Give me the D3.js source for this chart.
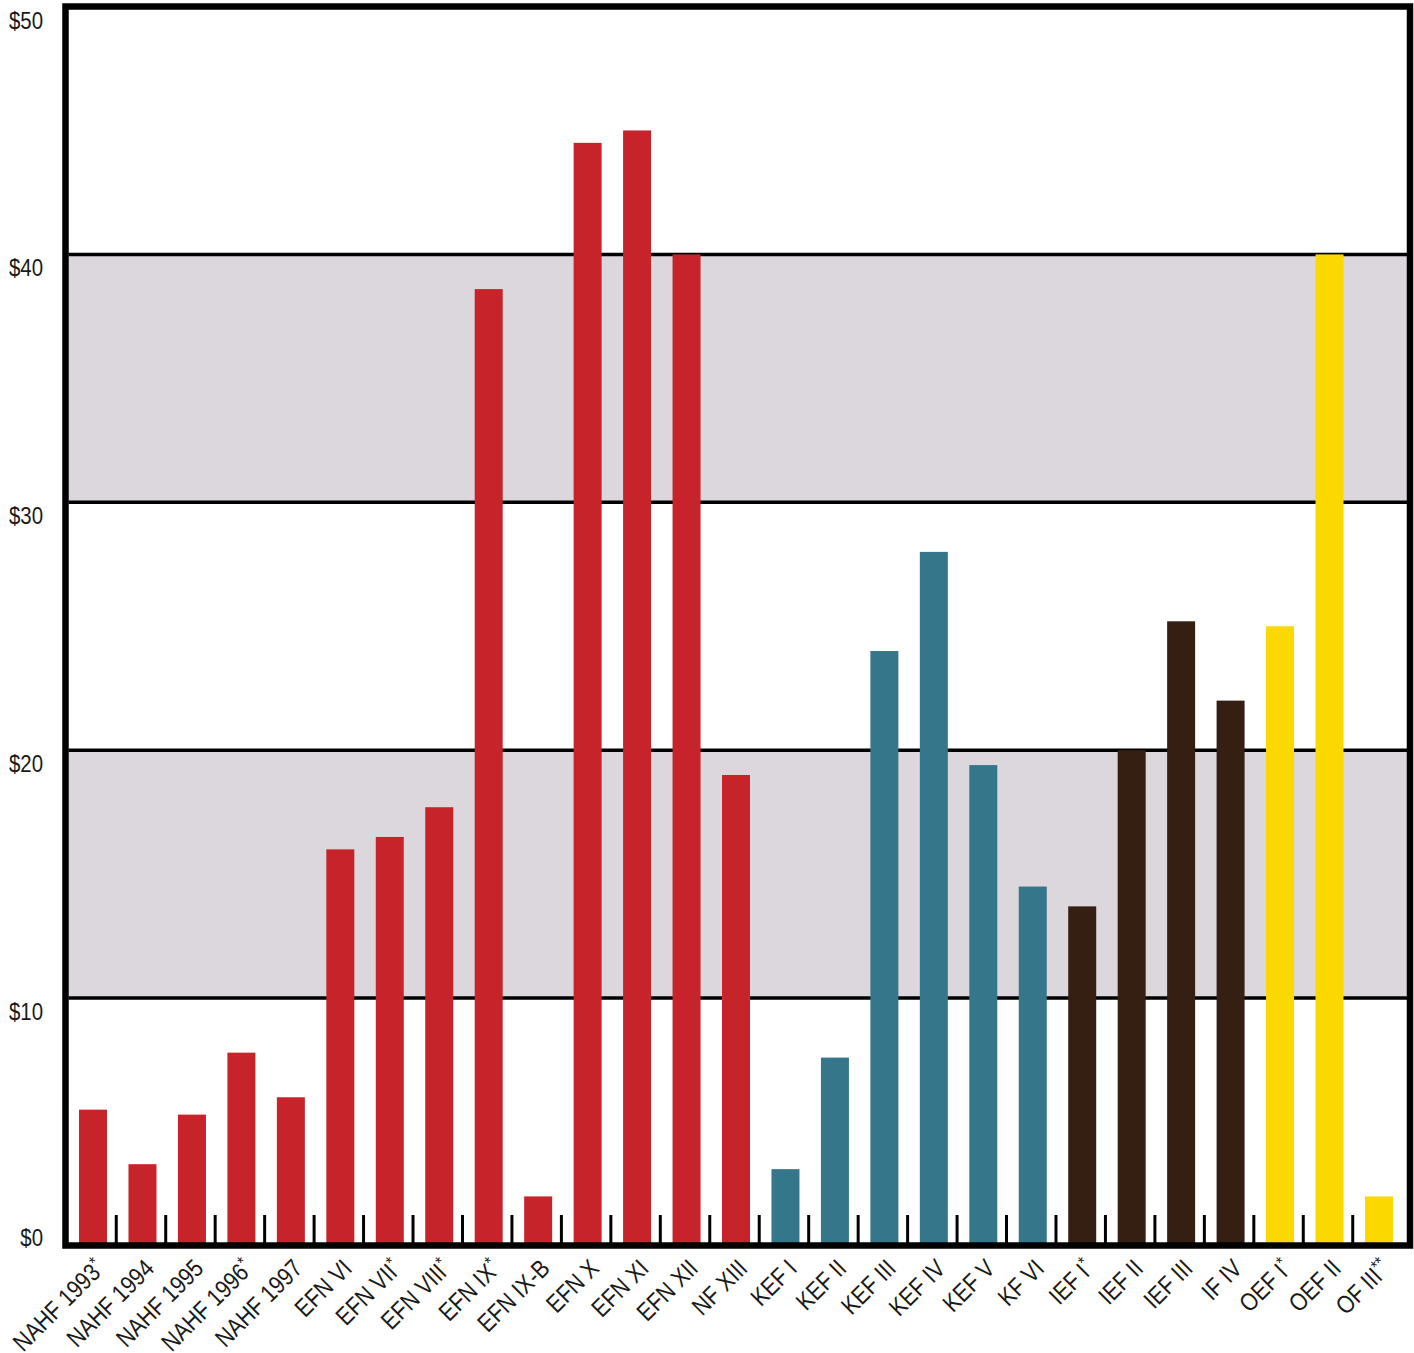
<!DOCTYPE html>
<html>
<head>
<meta charset="utf-8">
<script src="https://cdn.jsdelivr.net/npm/d3@7"></script>
<style>
body { margin: 0; background: #fff; }
svg text { font-family: "Liberation Sans", Arial, sans-serif; fill: #1a1a1a; }
</style>
</head>
<body>
<script>
var w = 1414;
var h = 1353;

var categories = ["NAHF 1993*", "NAHF 1994", "NAHF 1995", "NAHF 1996*", "NAHF 1997",
  "EFN VI", "EFN VII*", "EFN VIII*", "EFN IX*", "EFN IX-B", "EFN X", "EFN XI", "EFN XII", "NF XIII",
  "KEF I", "KEF II", "KEF III", "KEF IV", "KEF V", "KF VI",
  "IEF I*", "IEF II", "IEF III", "IF IV",
  "OEF I*", "OEF II", "OF III**"];

var values = [5.5, 3.3, 5.3, 7.8, 6.0,
  16.0, 16.5, 17.7, 38.6, 2.0, 44.5, 45.0, 40.0, 19.0,
  3.1, 7.6, 24.0, 28.0, 19.4, 14.5,
  13.7, 20.0, 25.2, 22.0,
  25.0, 40.0, 2.0];

var groups = ["EFN", "EFN", "EFN", "EFN", "EFN",
  "EFN", "EFN", "EFN", "EFN", "EFN", "EFN", "EFN", "EFN", "EFN",
  "KEF", "KEF", "KEF", "KEF", "KEF", "KEF",
  "IEF", "IEF", "IEF", "IEF",
  "OEF", "OEF", "OEF"];

var yTicks = [0, 10, 20, 30, 40, 50];
var yTickLabels = ["$0", "$10", "$20", "$30", "$40", "$50"];
var shaded = [[10, 20], [30, 40]];

var colors = {
  EFN: "#c6242a",
  KEF: "#36768a",
  IEF: "#351f13",
  OEF: "#fbd900"
};

var frameLeft = 65.5, frameTop = 6.5, frameRight = 1410, frameBottom = 1245.5;
var squeeze = 0.85; // narrow the font a bit

var svg = d3.select("body").append("svg")
    .attr("width", w)
    .attr("height", h)

var x = d3.scaleBand()
  .domain(categories)
  .range([68.3, 1403.7])
  .padding(0);

var y = d3.scaleLinear()
  .domain([0, 50])
  .range([1246, 6.5]);

var barW = x.bandwidth() * 0.566;

// shaded bands
svg.selectAll(".band")
  .data(shaded)
  .enter().append("rect")
  .attr("x", frameLeft + 3)
  .attr("width", frameRight - frameLeft - 6)
  .attr("y", function(d) { return y(d[1]); })
  .attr("height", function(d) { return y(d[0]) - y(d[1]); })
  .attr("fill", "#dcd7dd");

// grid lines
svg.selectAll(".grid")
  .data(yTicks.filter(function(d) { return d > 0 && d < 50; }))
  .enter().append("line")
  .attr("x1", frameLeft + 3)
  .attr("x2", frameRight - 3)
  .attr("y1", function(d) { return y(d); })
  .attr("y2", function(d) { return y(d); })
  .attr("stroke", "#000")
  .attr("stroke-width", 3.5);

// bars
svg.selectAll(".bar")
  .data(categories)
  .enter().append("rect")
  .attr("x", function(d) { return x(d) + (x.bandwidth() - barW) / 2; })
  .attr("width", barW)
  .attr("y", function(d, i) { return y(values[i]); })
  .attr("height", function(d, i) { return y(0) - y(values[i]); })
  .attr("fill", function(d, i) { return colors[groups[i]]; });

// small ticks between bars
svg.selectAll(".tick-mark")
  .data(categories.slice(1))
  .enter().append("line")
  .attr("x1", function(d) { return x(d) - 1.5; })
  .attr("x2", function(d) { return x(d) - 1.5; })
  .attr("y1", 1215)
  .attr("y2", 1244)
  .attr("stroke", "#000")
  .attr("stroke-width", 3);

// frame
svg.append("rect")
  .attr("x", frameLeft)
  .attr("y", frameTop)
  .attr("width", frameRight - frameLeft)
  .attr("height", frameBottom - frameTop)
  .attr("fill", "none")
  .attr("stroke", "#000")
  .attr("stroke-width", 6.5);

// y labels
svg.selectAll(".ylab")
  .data(yTicks)
  .enter().append("text")
  .attr("text-anchor", "end")
  .attr("transform", function(d) {
    var yy = d == 0 ? y(d) : y(d) + 22;
    return "translate(43," + yy + ") scale(" + squeeze + ",1)";
  })
  .style("font-size", "24px")
  .text(function(d, i) { return yTickLabels[i]; });

// x labels
var xl = svg.selectAll(".xlab")
  .data(categories)
  .enter().append("text")
  .attr("text-anchor", "end")
  .attr("transform", function(d) {
    return "translate(" + (x(d) + x.bandwidth() / 2 + 13) + ",1270) rotate(-45) scale(" + squeeze + ",1)";
  })
  .style("font-size", "25px");

xl.each(function(d) {
  var m = d.match(/^(.*?)(\**)$/);
  var t = d3.select(this);
  t.append("tspan").text(m[1]);
  if (m[2]) {
    t.append("tspan")
      .attr("dy", -8)
      .style("font-size", "18px")
      .text(m[2]);
  }
});
</script>
</body>
</html>
